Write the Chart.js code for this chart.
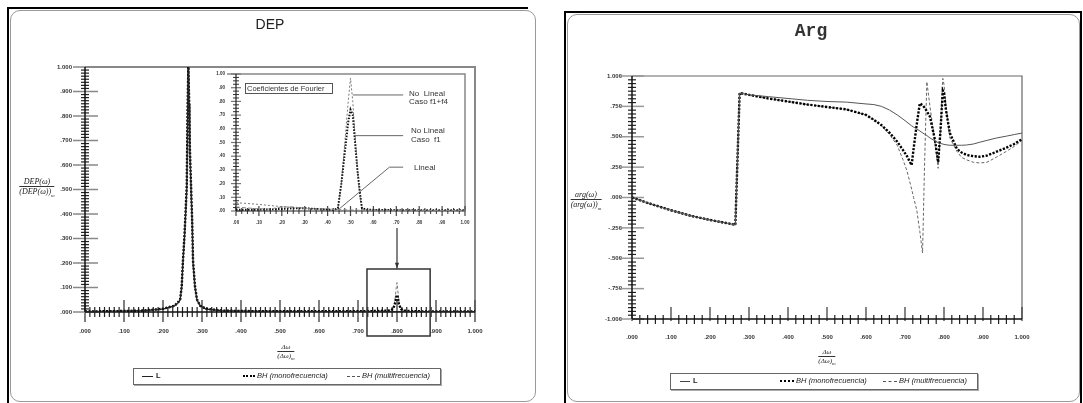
<!DOCTYPE html>
<html><head><meta charset="utf-8">
<script src="https://cdn.jsdelivr.net/npm/chart.js@4.4.1/dist/chart.umd.min.js"></script>
<style>
html,body{margin:0;padding:0;background:#fff;}
body{width:1083px;height:403px;overflow:hidden;position:relative;font-family:"Liberation Sans",Arial,sans-serif;color:#222;}
.a{position:absolute;white-space:nowrap;}
canvas{position:absolute;}
.frac{position:absolute;text-align:center;font-family:"Liberation Serif",serif;font-style:italic;color:#222;transform:translateX(-50%);white-space:nowrap;}
.frac .n{border-bottom:1px solid #333;padding:0 1px;}
.leg{position:absolute;border:1px solid #666;box-shadow:1px 1px 0 #aaa;box-sizing:border-box;}
.sw{position:absolute;height:0;}
.lt{position:absolute;font-size:7.5px;line-height:8px;font-style:italic;white-space:nowrap;color:#222;}
.il{position:absolute;font-size:8px;line-height:9px;white-space:nowrap;color:#333;}
</style></head><body>

<!-- panel frames -->
<div class="a" style="left:7px;top:7px;width:521px;height:2px;background:#000;"></div>
<div class="a" style="left:7px;top:7px;width:2px;height:396px;background:#000;"></div>
<div class="a" style="left:10px;top:10px;width:524px;height:390px;border:1px solid #999;border-radius:10px;"></div>

<div class="a" style="left:564px;top:11px;width:516px;height:2px;background:#000;"></div>
<div class="a" style="left:564px;top:11px;width:2px;height:392px;background:#000;"></div>
<div class="a" style="left:1080px;top:11px;width:2px;height:392px;background:#000;"></div>
<div class="a" style="left:567px;top:14px;width:511px;height:386px;border:1px solid #999;border-radius:10px;"></div>

<canvas id="cDep" width="540" height="403" style="left:0;top:0;width:540px;height:403px;"></canvas>
<canvas id="cIns" width="280" height="180" style="left:200px;top:60px;width:280px;height:180px;"></canvas>
<canvas id="cArg" width="543" height="403" style="left:540px;top:0;width:543px;height:403px;"></canvas>

<!-- titles -->
<div class="a" style="left:220px;top:16px;width:100px;text-align:center;font-size:14px;line-height:16px;color:#222;">DEP</div>
<div class="a" style="left:761px;top:21px;width:100px;text-align:center;font-family:'Liberation Mono',monospace;font-weight:bold;font-size:18px;line-height:20px;color:#333;">Arg</div>

<!-- axis titles -->
<div class="frac" style="left:37px;top:177px;font-size:8px;line-height:9px;"><div class="n">DEP(ω)</div><div>(DEP(ω))<sub style="font-size:5px;">m</sub></div></div>
<div class="frac" style="left:286px;top:343px;font-size:7px;line-height:8px;"><div class="n">Δω</div><div>(Δω)<sub style="font-size:5px;">m</sub></div></div>
<div class="frac" style="left:586px;top:190px;font-size:8px;line-height:9px;"><div class="n">arg(ω)</div><div>(arg(ω))<sub style="font-size:5px;">m</sub></div></div>
<div class="frac" style="left:827px;top:348px;font-size:7px;line-height:8px;"><div class="n">Δω</div><div>(Δω)<sub style="font-size:5px;">m</sub></div></div>

<!-- inset annotations -->
<div class="a" style="left:245px;top:83px;width:88px;height:11px;border:1px solid #555;box-sizing:border-box;font-size:7.5px;line-height:9px;padding-left:1px;color:#333;">Coeficientes de Fourier</div>
<div class="il" style="left:409px;top:89px;">No&nbsp; Lineal</div>
<div class="il" style="left:409px;top:97px;">Caso f1+f4</div>
<div class="il" style="left:411px;top:126px;">No Lineal</div>
<div class="il" style="left:411px;top:135px;">Caso&nbsp; f1</div>
<div class="il" style="left:414px;top:163px;">Lineal</div>

<!-- legends -->
<div class="leg" style="left:133px;top:368px;width:308px;height:17px;"></div>
<div class="sw" style="left:142px;top:376px;width:11px;border-top:1px solid #222;"></div>
<div class="lt" style="left:156px;top:372px;font-style:normal;font-weight:bold;">L</div>
<div class="sw" style="left:243px;top:375px;width:12px;border-top:2.5px dotted #000;"></div>
<div class="lt" style="left:257px;top:372px;">BH (monofrecuencia)</div>
<div class="sw" style="left:347px;top:376px;width:13px;border-top:1px dashed #555;"></div>
<div class="lt" style="left:362px;top:372px;">BH (multifrecuencia)</div>

<div class="leg" style="left:670px;top:373px;width:308px;height:17px;"></div>
<div class="sw" style="left:680px;top:381px;width:10px;border-top:1px solid #444;"></div>
<div class="lt" style="left:693px;top:377px;font-style:normal;font-weight:bold;">L</div>
<div class="sw" style="left:780px;top:380px;width:14px;border-top:2.5px dotted #000;"></div>
<div class="lt" style="left:796px;top:377px;">BH (monofrecuencia)</div>
<div class="sw" style="left:883px;top:381px;width:14px;border-top:1px dashed #555;"></div>
<div class="lt" style="left:899px;top:377px;">BH (multifrecuencia)</div>

<script>
// ===================== DATA =====================
// DEP panel (main plot)
const depX     = [0.000, 0.050, 0.100, 0.150, 0.200, 0.230, 0.240, 0.244, 0.248, 0.251, 0.255, 0.258, 0.261, 0.263, 0.265, 0.267, 0.269, 0.272, 0.275, 0.277, 0.282, 0.287, 0.295, 0.310, 0.350, 0.400, 0.500, 0.600, 0.700, 0.750, 0.780, 0.790, 0.795, 0.798, 0.800, 0.802, 0.805, 0.810, 0.820, 0.850, 0.900, 1.000];
const depL     = [0.002, 0.003, 0.004, 0.006, 0.012, 0.025, 0.040, 0.050, 0.100, 0.200, 0.300, 0.400, 0.500, 0.800, 1.000, 0.850, 0.650, 0.500, 0.350, 0.200, 0.100, 0.050, 0.025, 0.012, 0.006, 0.004, 0.003, 0.002, 0.002, 0.002, 0.002, 0.002, 0.002, 0.002, 0.002, 0.002, 0.002, 0.002, 0.002, 0.002, 0.002, 0.002];
const depMono  = [0.002, 0.003, 0.004, 0.006, 0.013, 0.026, 0.042, 0.052, 0.105, 0.205, 0.310, 0.410, 0.520, 0.820, 1.000, 0.860, 0.660, 0.510, 0.360, 0.210, 0.105, 0.052, 0.026, 0.013, 0.006, 0.004, 0.003, 0.003, 0.003, 0.004, 0.006, 0.012, 0.035, 0.060, 0.070, 0.060, 0.032, 0.012, 0.005, 0.003, 0.002, 0.002];
const depMulti = [0.002, 0.003, 0.004, 0.006, 0.012, 0.025, 0.041, 0.051, 0.102, 0.202, 0.305, 0.405, 0.510, 0.810, 1.000, 0.855, 0.655, 0.505, 0.355, 0.205, 0.102, 0.051, 0.025, 0.012, 0.006, 0.004, 0.003, 0.003, 0.003, 0.004, 0.006, 0.014, 0.050, 0.100, 0.120, 0.090, 0.040, 0.012, 0.005, 0.003, 0.002, 0.002];
const depTickVals   = [0, 0.1, 0.2, 0.3, 0.4, 0.5, 0.6, 0.7, 0.8, 0.9, 1.0];
const depTickLabels = ['.000', '.100', '.200', '.300', '.400', '.500', '.600', '.700', '.800', '.900', '1.000'];

// DEP inset: "Coeficientes de Fourier"
const insetX      = [0, 0.05, 0.10, 0.15, 0.20, 0.25, 0.30, 0.35, 0.40, 0.43, 0.445, 0.46, 0.47, 0.48, 0.49, 0.50, 0.51, 0.52, 0.53, 0.54, 0.55, 0.57, 0.60, 0.70, 0.80, 0.90, 1.0];
const insetMulti  = [0.060, 0.055, 0.048, 0.040, 0.032, 0.026, 0.021, 0.016, 0.012, 0.010, 0.015, 0.200, 0.400, 0.600, 0.800, 0.970, 0.800, 0.550, 0.320, 0.120, 0.020, 0.010, 0.010, 0.008, 0.006, 0.005, 0.005];
const insetMono   = [0.010, 0.010, 0.010, 0.012, 0.015, 0.020, 0.020, 0.015, 0.010, 0.010, 0.020, 0.200, 0.350, 0.500, 0.650, 0.740, 0.700, 0.500, 0.300, 0.150, 0.020, 0.010, 0.008, 0.006, 0.006, 0.005, 0.005];
const insetLineal = [0.030, 0.022, 0.016, 0.015, 0.030, 0.030, 0.020, 0.012, 0.020, 0.010, 0.010, 0.010, 0.010, 0.008, 0.008, 0.008, 0.008, 0.008, 0.006, 0.006, 0.006, 0.006, 0.005, 0.005, 0.004, 0.004, 0.004];
const insetTickVals   = [0, 0.1, 0.2, 0.3, 0.4, 0.5, 0.6, 0.7, 0.8, 0.9, 1.0];
const insetTickLabels = ['.00', '.10', '.20', '.30', '.40', '.50', '.60', '.70', '.80', '.90', '1.00'];

// Arg panel
const argX     = [0, 0.05, 0.10, 0.15, 0.20, 0.25, 0.265, 0.276, 0.30, 0.35, 0.40, 0.45, 0.50, 0.55, 0.60, 0.62, 0.64, 0.66, 0.68, 0.695, 0.705, 0.713, 0.717, 0.722, 0.73, 0.738, 0.745, 0.750, 0.756, 0.764, 0.777, 0.785, 0.791, 0.797, 0.80, 0.805, 0.815, 0.833, 0.845, 0.858, 0.875, 0.892, 0.91, 0.935, 0.96, 0.98, 1.0];
const argL     = [0, -0.055, -0.105, -0.150, -0.185, -0.215, -0.226, 0.860, 0.845, 0.830, 0.815, 0.800, 0.790, 0.785, 0.770, 0.765, 0.750, 0.720, 0.680, 0.645, 0.620, 0.600, 0.590, 0.580, 0.565, 0.548, 0.532, 0.522, 0.510, 0.490, 0.465, 0.452, 0.445, 0.440, 0.437, 0.434, 0.430, 0.430, 0.430, 0.432, 0.440, 0.455, 0.470, 0.490, 0.505, 0.518, 0.530];
const argMono  = [0, -0.055, -0.105, -0.150, -0.185, -0.215, -0.226, 0.860, 0.845, 0.815, 0.790, 0.765, 0.745, 0.725, 0.680, 0.640, 0.595, 0.535, 0.460, 0.390, 0.340, 0.290, 0.267, 0.400, 0.600, 0.775, 0.760, 0.740, 0.710, 0.665, 0.470, 0.290, 0.550, 0.880, 0.860, 0.720, 0.530, 0.400, 0.370, 0.350, 0.340, 0.335, 0.345, 0.377, 0.410, 0.440, 0.480];
const argMulti = [0, -0.055, -0.105, -0.150, -0.185, -0.215, -0.226, 0.860, 0.845, 0.815, 0.790, 0.765, 0.745, 0.725, 0.680, 0.640, 0.590, 0.520, 0.430, 0.310, 0.220, 0.120, 0.070, 0.000, -0.100, -0.280, -0.457, 0.250, 0.953, 0.750, 0.450, 0.240, 0.550, 0.980, 0.930, 0.750, 0.490, 0.380, 0.330, 0.310, 0.290, 0.284, 0.290, 0.333, 0.380, 0.420, 0.470];
const argXTickVals   = [0, 0.1, 0.2, 0.3, 0.4, 0.5, 0.6, 0.7, 0.8, 0.9, 1.0];
const argXTickLabels = ['.000', '.100', '.200', '.300', '.400', '.500', '.600', '.700', '.800', '.900', '1.000'];
const argYTickVals   = [-1, -0.75, -0.5, -0.25, 0, 0.25, 0.5, 0.75, 1];
const argYTickLabels = ['-1.000', '-.750', '-.500', '-.250', '.000', '.250', '.500', '.750', '1.000'];

// annotations in data units
const depZoomBox   = [[0.723, 0.1755], [0.885, 0.1755], [0.885, -0.098], [0.723, -0.098]];
const depZoomArrow = [[0.80, 0.343], [0.80, 0.178]];
const insetLeader1 = [[0.51, 0.847], [0.73, 0.847]];
const insetLeader2 = [[0.52, 0.55], [0.73, 0.55]];
const insetLeader3 = [[0.454, 0.02], [0.67, 0.32], [0.73, 0.32]];

// ===================== RENDER =====================
Chart.defaults.font.family = '"Liberation Sans", Arial, sans-serif';
const pts = (xs, ys) => xs.map((x, i) => ({x: x, y: ys[i]}));

function makeDeco(cfg) {
  return {
    id: 'deco',
    beforeDatasetsDraw(chart) {
      const {ctx, chartArea: a} = chart;
      const sx = chart.scales.x, sy = chart.scales.y;
      const seg = (x1, y1, x2, y2) => { ctx.beginPath(); ctx.moveTo(x1, y1); ctx.lineTo(x2, y2); ctx.stroke(); };
      ctx.save();
      ctx.lineCap = 'butt';
      if (cfg.frame) {
        ctx.strokeStyle = cfg.frame.color; ctx.lineWidth = cfg.frame.width;
        ctx.beginPath(); ctx.moveTo(a.left - (cfg.frame.ext || 0), a.top); ctx.lineTo(a.right, a.top); ctx.lineTo(a.right, a.bottom); ctx.stroke();
      }
      const marks = (scale, t, horiz) => {
        const n = Math.round((scale.max - scale.min) / t.minor);
        for (let i = 0; i <= n; i++) {
          const v = scale.min + i * t.minor;
          const r = (v - scale.min) / t.major;
          const major = Math.abs(r - Math.round(r)) < 1e-6;
          const p = scale.getPixelForValue(v);
          ctx.strokeStyle = major ? t.majorColor : t.minorColor;
          ctx.lineWidth = major ? t.majorWidth : t.minorWidth;
          const L = major ? t.majorLen : t.minorLen;
          if (horiz) seg(p, a.bottom - L[0], p, a.bottom + L[1]);
          else seg(a.left - L[0], p, a.left + L[1], p);
        }
      };
      marks(sx, cfg.x, true);
      marks(sy, cfg.y, false);
      ctx.strokeStyle = cfg.axisColor; ctx.lineWidth = cfg.axisWidth;
      seg(a.left, a.top, a.left, a.bottom);
      seg(a.left, a.bottom, a.right, a.bottom);
      ctx.restore();
    },
    afterDatasetsDraw(chart) {
      const {ctx} = chart;
      const sx = chart.scales.x, sy = chart.scales.y;
      const P = q => [sx.getPixelForValue(q[0]), sy.getPixelForValue(q[1])];
      ctx.save();
      (cfg.paths || []).forEach(pth => {
        ctx.strokeStyle = pth.color; ctx.lineWidth = pth.width; ctx.setLineDash([]);
        ctx.beginPath();
        pth.pts.forEach((q, i) => { const p = P(q); if (i) ctx.lineTo(p[0], p[1]); else ctx.moveTo(p[0], p[1]); });
        if (pth.close) ctx.closePath();
        ctx.stroke();
        if (pth.arrow) {
          const p1 = P(pth.pts[pth.pts.length - 2]), p2 = P(pth.pts[pth.pts.length - 1]);
          const ang = Math.atan2(p2[1] - p1[1], p2[0] - p1[0]);
          ctx.fillStyle = pth.color;
          ctx.beginPath();
          ctx.moveTo(p2[0], p2[1]);
          ctx.lineTo(p2[0] - 6 * Math.cos(ang - 0.35), p2[1] - 6 * Math.sin(ang - 0.35));
          ctx.lineTo(p2[0] - 6 * Math.cos(ang + 0.35), p2[1] - 6 * Math.sin(ang + 0.35));
          ctx.closePath(); ctx.fill();
        }
      });
      ctx.restore();
    }
  };
}

function axisOpts(o) {
  return {
    type: 'linear', min: o.min, max: o.max,
    afterFit: s => { if (o.horiz) s.height = o.size; else s.width = o.size; },
    afterBuildTicks: s => { s.ticks = o.vals.map(v => ({value: v})); },
    ticks: {
      autoSkip: false, maxRotation: 0, minRotation: 0, padding: o.pad,
      font: {size: o.font, weight: 'bold'}, color: '#333',
      callback: (v, i) => o.labels[i]
    },
    grid: {display: false, drawTicks: false, tickLength: 0}, border: {display: false}
  };
}

function baseOptions(pad, xa, ya) {
  return {
    responsive: false, animation: false, devicePixelRatio: 1,
    layout: {padding: pad},
    elements: {point: {radius: 0}, line: {tension: 0}},
    plugins: {legend: {display: false}, tooltip: {enabled: false}, title: {display: false}},
    scales: {x: xa, y: ya}
  };
}

// ---- DEP main ----
new Chart(document.getElementById('cDep'), {
  type: 'scatter',
  data: {datasets: [
    {label: 'L', data: pts(depX, depL), showLine: true, borderColor: '#222', borderWidth: 1.2},
    {label: 'BH (monofrecuencia)', data: pts(depX, depMono), showLine: true, borderColor: '#000', borderWidth: 2.4, borderDash: [2, 1.5]},
    {label: 'BH (multifrecuencia)', data: pts(depX, depMulti), showLine: true, borderColor: '#777', borderWidth: 1, borderDash: [3, 2]}
  ]},
  options: baseOptions({left: 55, right: 65, top: 67, bottom: 61},
    axisOpts({horiz: true, min: 0, max: 1, size: 30, vals: depTickVals, labels: depTickLabels, pad: 16, font: 6}),
    axisOpts({horiz: false, min: 0, max: 1, size: 30, vals: depTickVals, labels: depTickLabels, pad: 13, font: 6})),
  plugins: [makeDeco({
    frame: {color: '#888', width: 2},
    axisColor: '#111', axisWidth: 1.5,
    x: {major: 0.1, minor: 0.0125, majorLen: [12, 10], minorLen: [5, 5], majorColor: '#555', minorColor: '#222', majorWidth: 1.5, minorWidth: 1.2},
    y: {major: 0.1, minor: 0.0125, majorLen: [12, 13], minorLen: [4, 4], majorColor: '#888', minorColor: '#222', majorWidth: 1.5, minorWidth: 1.2},
    paths: [
      {pts: depZoomBox, close: true, color: '#333', width: 1.5},
      {pts: depZoomArrow, arrow: true, color: '#333', width: 1.2}
    ]
  })]
});

// ---- DEP inset ----
new Chart(document.getElementById('cIns'), {
  type: 'scatter',
  data: {datasets: [
    {label: 'Lineal', data: pts(insetX, insetLineal), showLine: true, borderColor: '#888', borderWidth: 1, borderDash: [4, 2]},
    {label: 'No Lineal Caso f1', data: pts(insetX, insetMono), showLine: true, borderColor: '#111', borderWidth: 2, borderDash: [1.5, 1.5]},
    {label: 'No Lineal Caso f1+f4', data: pts(insetX, insetMulti), showLine: true, borderColor: '#777', borderWidth: 1, borderDash: [2, 2]}
  ]},
  options: baseOptions({left: 16, right: 15, top: 14, bottom: 9},
    axisOpts({horiz: true, min: 0, max: 1, size: 20, vals: insetTickVals, labels: insetTickLabels, pad: 9, font: 4.5}),
    axisOpts({horiz: false, min: 0, max: 1, size: 20, vals: insetTickVals, labels: insetTickLabels, pad: 11, font: 4.5})),
  plugins: [makeDeco({
    frame: {color: '#888', width: 1.5, ext: 9},
    axisColor: '#222', axisWidth: 1.2,
    x: {major: 0.1, minor: 0.025, majorLen: [5, 5], minorLen: [3, 3], majorColor: '#444', minorColor: '#333', majorWidth: 1.2, minorWidth: 1},
    y: {major: 0.1, minor: 0.025, majorLen: [5, 5], minorLen: [3, 3], majorColor: '#777', minorColor: '#333', majorWidth: 1.2, minorWidth: 1},
    paths: [
      {pts: insetLeader1, color: '#666', width: 1},
      {pts: insetLeader2, color: '#666', width: 1},
      {pts: insetLeader3, color: '#666', width: 1}
    ]
  })]
});

// ---- Arg ----
new Chart(document.getElementById('cArg'), {
  type: 'scatter',
  data: {datasets: [
    {label: 'L', data: pts(argX, argL), showLine: true, borderColor: '#555', borderWidth: 1},
    {label: 'BH (monofrecuencia)', data: pts(argX, argMono), showLine: true, borderColor: '#000', borderWidth: 2.4, borderDash: [2.2, 1.5]},
    {label: 'BH (multifrecuencia)', data: pts(argX, argMulti), showLine: true, borderColor: '#666', borderWidth: 1, borderDash: [3, 2]}
  ]},
  options: baseOptions({left: 52, right: 61, top: 76, bottom: 54},
    axisOpts({horiz: true, min: 0, max: 1, size: 30, vals: argXTickVals, labels: argXTickLabels, pad: 15, font: 6}),
    axisOpts({horiz: false, min: -1, max: 1, size: 40, vals: argYTickVals, labels: argYTickLabels, pad: 10, font: 6})),
  plugins: [makeDeco({
    frame: {color: '#666', width: 1.2},
    axisColor: '#111', axisWidth: 1.5,
    x: {major: 0.1, minor: 0.02, majorLen: [12, 2], minorLen: [4, 5], majorColor: '#444', minorColor: '#222', majorWidth: 1.3, minorWidth: 1.2},
    y: {major: 0.25, minor: 0.03125, majorLen: [12, 12], minorLen: [4, 4], majorColor: '#999', minorColor: '#222', majorWidth: 1.5, minorWidth: 1.2}
  })]
});
</script>
</body></html>
